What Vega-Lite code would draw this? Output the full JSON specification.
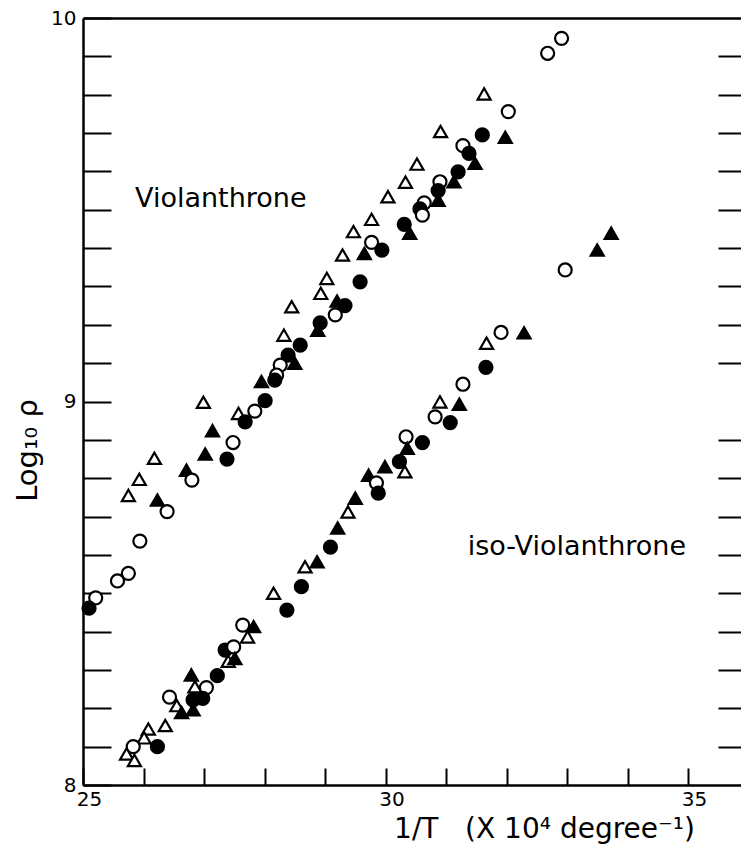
{
  "$schema": "https://vega.github.io/schema/vega-lite/v6.json",
  "width": 658,
  "height": 767,
  "autosize": "none",
  "padding": {"left": 83, "top": 18, "right": 0, "bottom": 71},
  "background": "white",
  "config": {
    "view": {"stroke": null},
    "font": "DejaVu Sans",
    "axis": {
      "domainColor": "black",
      "tickColor": "black",
      "labelColor": "black",
      "titleColor": "black",
      "labelFont": "DejaVu Sans",
      "titleFont": "DejaVu Sans",
      "grid": false
    }
  },
  "datasets": {
    "points": [
      {"compound": "Violanthrone", "marker": "open circle", "invT": 32.91, "logRho": 9.947},
      {"compound": "Violanthrone", "marker": "open circle", "invT": 32.68, "logRho": 9.908},
      {"compound": "Violanthrone", "marker": "open triangle", "invT": 31.63, "logRho": 9.802},
      {"compound": "Violanthrone", "marker": "open circle", "invT": 32.03, "logRho": 9.756},
      {"compound": "Violanthrone", "marker": "open triangle", "invT": 30.91, "logRho": 9.704},
      {"compound": "Violanthrone", "marker": "filled circle", "invT": 31.6, "logRho": 9.695},
      {"compound": "Violanthrone", "marker": "filled triangle", "invT": 31.98, "logRho": 9.689},
      {"compound": "Violanthrone", "marker": "open circle", "invT": 31.28, "logRho": 9.667},
      {"compound": "Violanthrone", "marker": "filled circle", "invT": 31.38, "logRho": 9.647},
      {"compound": "Violanthrone", "marker": "filled triangle", "invT": 31.48, "logRho": 9.621},
      {"compound": "Violanthrone", "marker": "open triangle", "invT": 30.52, "logRho": 9.619},
      {"compound": "Violanthrone", "marker": "filled circle", "invT": 31.2, "logRho": 9.599},
      {"compound": "Violanthrone", "marker": "filled triangle", "invT": 31.13, "logRho": 9.573},
      {"compound": "Violanthrone", "marker": "open triangle", "invT": 30.33, "logRho": 9.572},
      {"compound": "Violanthrone", "marker": "open circle", "invT": 30.9, "logRho": 9.573},
      {"compound": "Violanthrone", "marker": "filled circle", "invT": 30.87, "logRho": 9.55},
      {"compound": "Violanthrone", "marker": "filled triangle", "invT": 30.87, "logRho": 9.525},
      {"compound": "Violanthrone", "marker": "open triangle", "invT": 30.04, "logRho": 9.534},
      {"compound": "Violanthrone", "marker": "open circle", "invT": 30.64, "logRho": 9.518},
      {"compound": "Violanthrone", "marker": "filled circle", "invT": 30.57, "logRho": 9.502},
      {"compound": "Violanthrone", "marker": "open circle", "invT": 30.61, "logRho": 9.486},
      {"compound": "Violanthrone", "marker": "open triangle", "invT": 29.77, "logRho": 9.475},
      {"compound": "Violanthrone", "marker": "filled circle", "invT": 30.31, "logRho": 9.462},
      {"compound": "Violanthrone", "marker": "filled triangle", "invT": 30.4, "logRho": 9.439},
      {"compound": "Violanthrone", "marker": "open triangle", "invT": 29.47, "logRho": 9.443},
      {"compound": "Violanthrone", "marker": "open circle", "invT": 29.77, "logRho": 9.415},
      {"compound": "Violanthrone", "marker": "filled circle", "invT": 29.94, "logRho": 9.395},
      {"compound": "Violanthrone", "marker": "filled triangle", "invT": 29.65, "logRho": 9.386},
      {"compound": "Violanthrone", "marker": "open triangle", "invT": 29.29, "logRho": 9.382},
      {"compound": "Violanthrone", "marker": "open triangle", "invT": 29.03, "logRho": 9.321},
      {"compound": "Violanthrone", "marker": "filled circle", "invT": 29.58, "logRho": 9.312},
      {"compound": "Violanthrone", "marker": "open triangle", "invT": 28.93, "logRho": 9.282},
      {"compound": "Violanthrone", "marker": "filled circle", "invT": 29.33, "logRho": 9.25},
      {"compound": "Violanthrone", "marker": "filled triangle", "invT": 29.2, "logRho": 9.262},
      {"compound": "Violanthrone", "marker": "open circle", "invT": 29.17, "logRho": 9.226},
      {"compound": "Violanthrone", "marker": "open triangle", "invT": 28.45, "logRho": 9.247},
      {"compound": "Violanthrone", "marker": "filled circle", "invT": 28.92, "logRho": 9.205},
      {"compound": "Violanthrone", "marker": "filled triangle", "invT": 28.88, "logRho": 9.186},
      {"compound": "Violanthrone", "marker": "filled circle", "invT": 28.59, "logRho": 9.147},
      {"compound": "Violanthrone", "marker": "open triangle", "invT": 28.32, "logRho": 9.173},
      {"compound": "Violanthrone", "marker": "filled circle", "invT": 28.39, "logRho": 9.121},
      {"compound": "Violanthrone", "marker": "filled triangle", "invT": 28.5, "logRho": 9.1},
      {"compound": "Violanthrone", "marker": "open circle", "invT": 28.26, "logRho": 9.095},
      {"compound": "Violanthrone", "marker": "open circle", "invT": 28.2, "logRho": 9.069},
      {"compound": "Violanthrone", "marker": "filled circle", "invT": 28.17, "logRho": 9.056},
      {"compound": "Violanthrone", "marker": "filled triangle", "invT": 27.95, "logRho": 9.052},
      {"compound": "Violanthrone", "marker": "filled circle", "invT": 28.01, "logRho": 9.002},
      {"compound": "Violanthrone", "marker": "open triangle", "invT": 26.99, "logRho": 8.998},
      {"compound": "Violanthrone", "marker": "open circle", "invT": 27.84, "logRho": 8.975},
      {"compound": "Violanthrone", "marker": "open triangle", "invT": 27.57, "logRho": 8.969},
      {"compound": "Violanthrone", "marker": "filled circle", "invT": 27.68, "logRho": 8.947},
      {"compound": "Violanthrone", "marker": "filled triangle", "invT": 27.14, "logRho": 8.924},
      {"compound": "Violanthrone", "marker": "open circle", "invT": 27.48, "logRho": 8.893},
      {"compound": "Violanthrone", "marker": "filled triangle", "invT": 27.02, "logRho": 8.863},
      {"compound": "Violanthrone", "marker": "filled circle", "invT": 27.38, "logRho": 8.85},
      {"compound": "Violanthrone", "marker": "open triangle", "invT": 26.18, "logRho": 8.852},
      {"compound": "Violanthrone", "marker": "filled triangle", "invT": 26.71, "logRho": 8.821},
      {"compound": "Violanthrone", "marker": "open circle", "invT": 26.8, "logRho": 8.795},
      {"compound": "Violanthrone", "marker": "open triangle", "invT": 25.93, "logRho": 8.797},
      {"compound": "Violanthrone", "marker": "open triangle", "invT": 25.75, "logRho": 8.755},
      {"compound": "Violanthrone", "marker": "filled triangle", "invT": 26.23, "logRho": 8.743},
      {"compound": "Violanthrone", "marker": "open circle", "invT": 26.39, "logRho": 8.713},
      {"compound": "Violanthrone", "marker": "open circle", "invT": 25.94, "logRho": 8.636},
      {"compound": "Violanthrone", "marker": "open circle", "invT": 25.75, "logRho": 8.552},
      {"compound": "Violanthrone", "marker": "open circle", "invT": 25.57, "logRho": 8.532},
      {"compound": "Violanthrone", "marker": "open circle", "invT": 25.21, "logRho": 8.488},
      {"compound": "Violanthrone", "marker": "filled circle", "invT": 25.1, "logRho": 8.461},

      {"compound": "iso-Violanthrone", "marker": "filled triangle", "invT": 33.73, "logRho": 9.439},
      {"compound": "iso-Violanthrone", "marker": "filled triangle", "invT": 33.5, "logRho": 9.395},
      {"compound": "iso-Violanthrone", "marker": "open circle", "invT": 32.97, "logRho": 9.343},
      {"compound": "iso-Violanthrone", "marker": "open circle", "invT": 31.91, "logRho": 9.18},
      {"compound": "iso-Violanthrone", "marker": "filled triangle", "invT": 32.29, "logRho": 9.179},
      {"compound": "iso-Violanthrone", "marker": "open triangle", "invT": 31.67, "logRho": 9.152},
      {"compound": "iso-Violanthrone", "marker": "filled circle", "invT": 31.66, "logRho": 9.089},
      {"compound": "iso-Violanthrone", "marker": "open circle", "invT": 31.28, "logRho": 9.045},
      {"compound": "iso-Violanthrone", "marker": "open triangle", "invT": 30.9, "logRho": 8.999},
      {"compound": "iso-Violanthrone", "marker": "filled triangle", "invT": 31.22, "logRho": 8.993},
      {"compound": "iso-Violanthrone", "marker": "open circle", "invT": 30.82, "logRho": 8.96},
      {"compound": "iso-Violanthrone", "marker": "filled circle", "invT": 31.07, "logRho": 8.945},
      {"compound": "iso-Violanthrone", "marker": "open circle", "invT": 30.34, "logRho": 8.908},
      {"compound": "iso-Violanthrone", "marker": "filled circle", "invT": 30.61, "logRho": 8.893},
      {"compound": "iso-Violanthrone", "marker": "filled triangle", "invT": 30.36, "logRho": 8.878},
      {"compound": "iso-Violanthrone", "marker": "filled circle", "invT": 30.23, "logRho": 8.843},
      {"compound": "iso-Violanthrone", "marker": "filled triangle", "invT": 29.99, "logRho": 8.83},
      {"compound": "iso-Violanthrone", "marker": "open triangle", "invT": 30.32, "logRho": 8.817},
      {"compound": "iso-Violanthrone", "marker": "filled triangle", "invT": 29.72, "logRho": 8.808},
      {"compound": "iso-Violanthrone", "marker": "open circle", "invT": 29.85, "logRho": 8.788},
      {"compound": "iso-Violanthrone", "marker": "filled circle", "invT": 29.88, "logRho": 8.761},
      {"compound": "iso-Violanthrone", "marker": "filled triangle", "invT": 29.5, "logRho": 8.748},
      {"compound": "iso-Violanthrone", "marker": "open triangle", "invT": 29.38, "logRho": 8.712},
      {"compound": "iso-Violanthrone", "marker": "filled triangle", "invT": 29.21, "logRho": 8.67},
      {"compound": "iso-Violanthrone", "marker": "filled circle", "invT": 29.09, "logRho": 8.62},
      {"compound": "iso-Violanthrone", "marker": "filled triangle", "invT": 28.87, "logRho": 8.582},
      {"compound": "iso-Violanthrone", "marker": "open triangle", "invT": 28.67, "logRho": 8.569},
      {"compound": "iso-Violanthrone", "marker": "filled circle", "invT": 28.61, "logRho": 8.517},
      {"compound": "iso-Violanthrone", "marker": "open triangle", "invT": 28.15, "logRho": 8.5},
      {"compound": "iso-Violanthrone", "marker": "filled circle", "invT": 28.37, "logRho": 8.456},
      {"compound": "iso-Violanthrone", "marker": "open circle", "invT": 27.64, "logRho": 8.417},
      {"compound": "iso-Violanthrone", "marker": "filled triangle", "invT": 27.82, "logRho": 8.413},
      {"compound": "iso-Violanthrone", "marker": "open triangle", "invT": 27.72, "logRho": 8.386},
      {"compound": "iso-Violanthrone", "marker": "filled circle", "invT": 27.35, "logRho": 8.352},
      {"compound": "iso-Violanthrone", "marker": "open circle", "invT": 27.49, "logRho": 8.36},
      {"compound": "iso-Violanthrone", "marker": "open triangle", "invT": 27.4, "logRho": 8.323},
      {"compound": "iso-Violanthrone", "marker": "filled triangle", "invT": 27.51, "logRho": 8.33},
      {"compound": "iso-Violanthrone", "marker": "filled circle", "invT": 27.22, "logRho": 8.285},
      {"compound": "iso-Violanthrone", "marker": "filled triangle", "invT": 26.79, "logRho": 8.287},
      {"compound": "iso-Violanthrone", "marker": "open triangle", "invT": 26.85, "logRho": 8.256},
      {"compound": "iso-Violanthrone", "marker": "open circle", "invT": 27.04, "logRho": 8.254},
      {"compound": "iso-Violanthrone", "marker": "open circle", "invT": 26.43, "logRho": 8.229},
      {"compound": "iso-Violanthrone", "marker": "filled circle", "invT": 26.98, "logRho": 8.226},
      {"compound": "iso-Violanthrone", "marker": "filled circle", "invT": 26.82, "logRho": 8.222},
      {"compound": "iso-Violanthrone", "marker": "open triangle", "invT": 26.55, "logRho": 8.207},
      {"compound": "iso-Violanthrone", "marker": "filled triangle", "invT": 26.63, "logRho": 8.189},
      {"compound": "iso-Violanthrone", "marker": "filled triangle", "invT": 26.82, "logRho": 8.196},
      {"compound": "iso-Violanthrone", "marker": "open triangle", "invT": 26.36, "logRho": 8.155},
      {"compound": "iso-Violanthrone", "marker": "open triangle", "invT": 26.08, "logRho": 8.146},
      {"compound": "iso-Violanthrone", "marker": "open triangle", "invT": 26.01, "logRho": 8.123},
      {"compound": "iso-Violanthrone", "marker": "filled circle", "invT": 26.23, "logRho": 8.1},
      {"compound": "iso-Violanthrone", "marker": "open circle", "invT": 25.83, "logRho": 8.1},
      {"compound": "iso-Violanthrone", "marker": "open triangle", "invT": 25.72, "logRho": 8.081},
      {"compound": "iso-Violanthrone", "marker": "open triangle", "invT": 25.85, "logRho": 8.064}
    ],
    "labels": [
      {"name": "Violanthrone", "invT": 25.86, "logRho": 9.527},
      {"name": "iso-Violanthrone", "invT": 31.36, "logRho": 8.62}
    ]
  },
  "resolve": {"axis": {"x": "independent", "y": "independent"}},
  "layer": [
    {
      "mark": {"type": "rule", "stroke": "black", "strokeWidth": 2},
      "encoding": {
        "y": {"datum": 9, "type": "quantitative", "scale": {"domain": [8, 10], "nice": false, "zero": false}, "axis": null}
      }
    },
    {
      "data": {"name": "labels"},
      "mark": {"type": "text", "align": "left", "baseline": "middle", "fontSize": 27, "font": "DejaVu Sans", "color": "black"},
      "encoding": {
        "x": {
          "field": "invT", "type": "quantitative",
          "axis": {"orient": "top", "domain": true, "domainWidth": 2.5, "ticks": false, "labels": false, "title": null}
        },
        "y": {
          "field": "logRho", "type": "quantitative",
          "axis": {
            "orient": "right", "domain": false, "labels": false, "title": null,
            "values": [8.1, 8.2, 8.3, 8.4, 8.5, 8.6, 8.7, 8.8, 8.9, 9.1, 9.2, 9.3, 9.4, 9.5, 9.6, 9.7, 9.8, 9.9],
            "tickSize": -23, "tickWidth": 2
          }
        },
        "text": {"field": "name"}
      }
    },
    {
      "data": {"name": "points"},
      "mark": {"type": "point", "filled": true, "stroke": "black", "strokeWidth": 2.2, "size": 170, "opacity": 1},
      "encoding": {
        "x": {
          "field": "invT", "type": "quantitative",
          "scale": {"domain": [25, 35.876], "nice": false, "zero": false},
          "axis": {
            "orient": "bottom", "domainWidth": 2.5,
            "values": [25, 26, 27, 28, 29, 30, 31, 32, 33, 34, 35],
            "labelExpr": "datum.value % 5 == 0 ? datum.label : ''",
            "tickSize": -17, "tickWidth": 2, "labelPadding": 21, "labelOffset": 6,
            "labelFontSize": 20, "labelFlush": false,
            "title": "1/T\u00a0\u00a0\u00a0(X 10⁴ degree⁻¹)", "titleFontSize": 28, "titleFontWeight": "normal",
            "titlePadding": 6, "titleX": 461
          }
        },
        "y": {
          "field": "logRho", "type": "quantitative",
          "scale": {"domain": [8, 10], "nice": false, "zero": false},
          "axis": {
            "orient": "left", "domainWidth": 2.5,
            "values": [8, 8.1, 8.2, 8.3, 8.4, 8.5, 8.6, 8.7, 8.8, 8.9, 9, 9.1, 9.2, 9.3, 9.4, 9.5, 9.6, 9.7, 9.8, 9.9, 10],
            "labelExpr": "abs(datum.value - round(datum.value)) < 0.01 ? format(datum.value, 'd') : ''",
            "tickSize": -28, "tickWidth": 2, "labelPadding": 35,
            "labelFontSize": 20, "labelFlush": false,
            "title": "Log₁₀ ρ", "titleFontSize": 29, "titleFontWeight": "normal",
            "titleY": 432, "titlePadding": 8
          }
        },
        "shape": {
          "field": "marker", "type": "nominal",
          "scale": {"domain": ["open circle", "filled circle", "open triangle", "filled triangle"], "range": ["circle", "circle", "triangle-up", "triangle-up"]},
          "legend": null
        },
        "fill": {
          "field": "marker", "type": "nominal",
          "scale": {"domain": ["open circle", "filled circle", "open triangle", "filled triangle"], "range": ["white", "black", "white", "black"]},
          "legend": null
        }
      }
    }
  ]
}
